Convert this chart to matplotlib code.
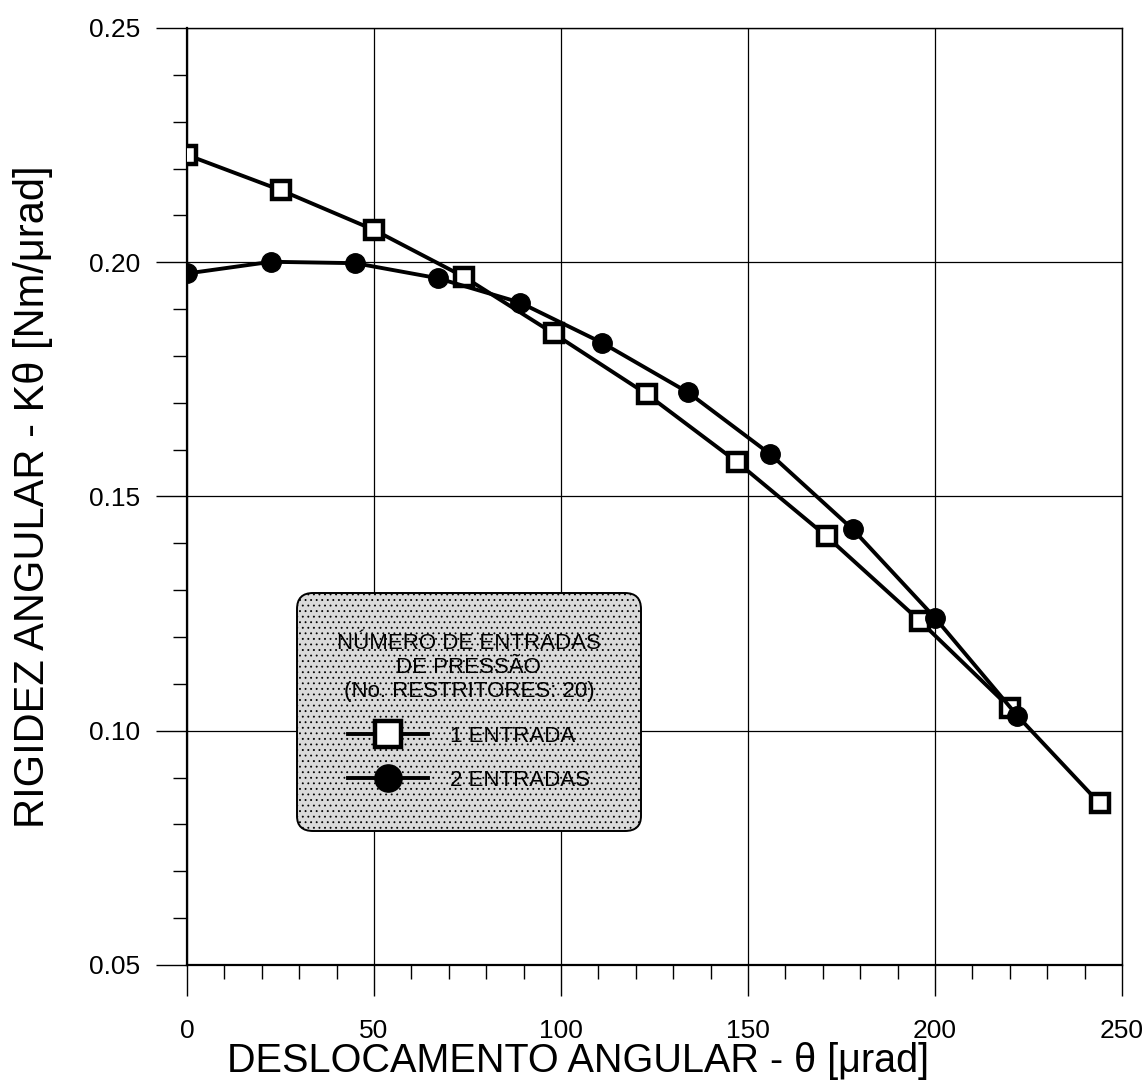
import matplotlib
matplotlib.use('Agg')
import matplotlib.pyplot as plt
from matplotlib.ticker import MultipleLocator

# 1 entrada (squares)
x1 = [0, 25, 50, 74, 98, 123, 147, 171, 196, 220, 244]
k1 = [0.2229, 0.2154, 0.2069, 0.1969, 0.1848, 0.1718, 0.1574, 0.1415, 0.1234, 0.1049, 0.0845]
# 2 entradas (circles)
x2 = [0, 22.5, 45, 67, 89, 111, 134, 156, 178, 200, 222]
k2 = [0.1976, 0.2001, 0.1998, 0.1966, 0.1914, 0.1828, 0.1722, 0.1590, 0.1430, 0.1241, 0.1032]

labels = ['1 ENTRADA', '2 ENTRADAS']
legend_title = 'NÚMERO DE ENTRADAS\nDE PRESSÃO\n(No. RESTRITORES: 20)'

plt.rcParams['font.family'] = ['Liberation Sans', 'DejaVu Sans']
plt.rcParams['hatch.linewidth'] = 0.6

fig = plt.figure(figsize=(11.44, 10.85), dpi=100)
ax = fig.add_axes([0.1635, 0.1106, 0.8173, 0.8636])

ax.plot(x1, k1, color='black', lw=2.8, marker='s', ms=13, mfc='white', mec='black', mew=3.2,
        label=labels[0], zorder=3)
ax.plot(x2, k2, color='black', lw=2.8, marker='o', ms=14, mfc='black', mec='black',
        label=labels[1], zorder=3)

ax.set_xlim(0, 250)
ax.set_ylim(0.05, 0.25)
ax.xaxis.set_major_locator(MultipleLocator(50))
ax.xaxis.set_minor_locator(MultipleLocator(10))
ax.yaxis.set_major_locator(MultipleLocator(0.05))
ax.yaxis.set_minor_locator(MultipleLocator(0.01))
ax.yaxis.set_major_formatter(plt.FormatStrFormatter('%.2f'))

ax.grid(True, which='major', color='black', lw=0.9)
ax.tick_params(which='major', direction='out', length=22, width=1)
ax.tick_params(which='minor', direction='out', length=10, width=1)
ax.tick_params(axis='y', labelsize=19, pad=12)
ax.tick_params(axis='x', labelsize=19, pad=17)
for side in ['left', 'bottom']:
    ax.spines[side].set_linewidth(1.6)
for side in ['top', 'right']:
    ax.spines[side].set_linewidth(1.0)

ax.set_xlabel('DESLOCAMENTO ANGULAR - θ [μrad]', fontsize=28.5)
ax.xaxis.set_label_coords(0.418, -0.082)
ax.set_ylabel('RIGIDEZ ANGULAR - Kθ [Nm/μrad]', fontsize=30)
ax.yaxis.set_label_coords(-0.143, 0.5)

leg = ax.legend(title=legend_title, loc='upper left', bbox_to_anchor=(0.1176, 0.397),
                borderaxespad=0, fontsize=16, title_fontsize=16, handlelength=3.6,
                handletextpad=1.0, labelspacing=1.05, borderpad=1.8, fancybox=True,
                framealpha=1, markerscale=1.4, alignment='center')
leg.get_title().set_multialignment('center')
frame = leg.get_frame()
frame.set_facecolor('#dadada')
frame.set_edgecolor('black')
frame.set_hatch('...')
frame.set_linewidth(1.4)
frame.set_boxstyle('round', pad=0, rounding_size=0.7)

fig.savefig('out.png', dpi=100)
